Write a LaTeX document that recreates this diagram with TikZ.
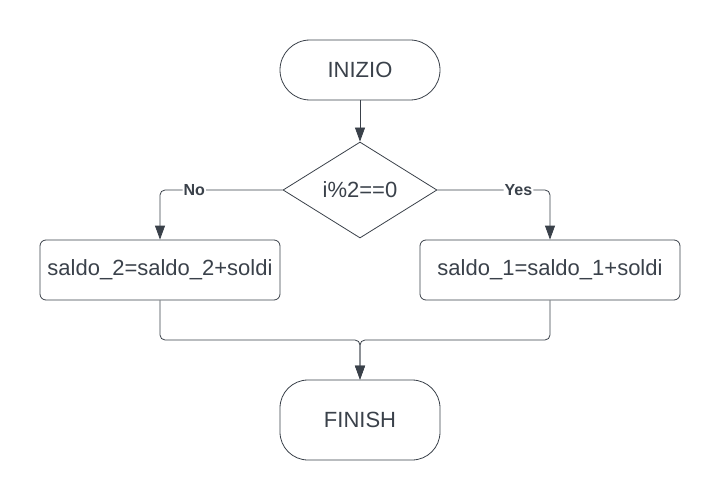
\documentclass[tikz,border=0pt]{standalone}
\usepackage{fontspec}
\setmainfont{Liberation Sans}
\usetikzlibrary{arrows.meta}
\usetikzlibrary{positioning}
\usetikzlibrary{shapes.geometric}
\definecolor{tratto}{HTML}{3A414A}
\tikzset{
	>={Triangle[width=10pt,length=14pt]},
	terminale/.style={
		rectangle,
		rounded corners=30pt,
		draw=tratto, thick,
		minimum width=160pt,
		minimum height=60pt,
		text=tratto,
		font=\fontsize{22}{26}\selectfont},
	blocco/.style={
		rectangle,
		rounded corners=6pt,
		draw=tratto, thick,
		minimum height=60pt,
		inner xsep=6pt,
		text=tratto,
		font=\fontsize{22}{26}\selectfont},
	decisione/.style={
		diamond,
		draw=tratto, thick,
		minimum width=154pt,
		minimum height=96pt,
		inner sep=0pt,
		text=tratto,
		font=\fontsize{22}{26}\selectfont},
	linea/.style={draw=tratto, thick, rounded corners=5pt},
	freccia/.style={linea, ->},
	etichetta/.style={fill=white, inner sep=1pt, text=tratto,
		font=\bfseries\fontsize{16}{19}\selectfont},
}

\begin{document}
\begin{tikzpicture}[x=1pt,y=-1pt]
	\useasboundingbox (0,0) rectangle (720,500);

	\node[terminale] (inizio) at (360,70) {INIZIO};
	\node[decisione] (cond) at (360,190) {i\%2==0};
	\node[blocco, minimum width=240pt] (saldo2) at (160,270) {saldo\_2=saldo\_2+soldi};
	\node[blocco, minimum width=260pt] (saldo1) at (550,270) {saldo\_1=saldo\_1+soldi};
	\node[terminale, minimum height=80pt, rounded corners=28pt] (fine) at (360,420) {FINISH};
	\coordinate (unione) at (360,340);

	% collegamenti
	\draw[freccia] (inizio) -- (cond);
	\draw[freccia] (cond.west) -| node[etichetta, pos=0.36] {No} (saldo2.north);
	\draw[freccia] (cond.east) -| node[etichetta, pos=0.36] {Yes} (saldo1.north);
	\draw[freccia] (saldo2.south) |- (unione) -- (fine.north);
	\draw[freccia] (saldo1.south) |- (unione) -- (fine.north);

\end{tikzpicture}
\end{document}
